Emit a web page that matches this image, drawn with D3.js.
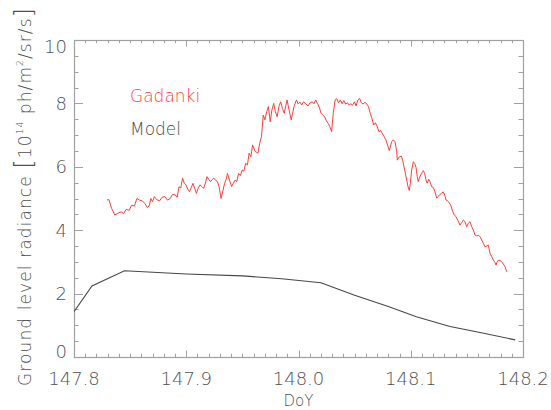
<!DOCTYPE html>
<html>
<head>
<meta charset="utf-8">
<script src="https://cdn.jsdelivr.net/npm/d3@7"></script>
<style>
  html, body { margin: 0; padding: 0; background: #fff; }
  svg { display: block; }
  text { font-family: "DejaVu Sans", "Liberation Sans", sans-serif; font-weight: 200; fill: #505050; }
</style>
</head>
<body>
<svg id="chart" width="551" height="410"></svg>
<script>
// Observed ground level radiance at Gadanki (DoY, value in 1e14 ph/m²/sr/s)
const gadankiDoy = [
  147.8294,147.8310,147.8335,147.8363,147.8388,147.8420,147.8441,147.8466,147.8491,147.8513,
  147.8538,147.8560,147.8585,147.8607,147.8629,147.8654,147.8669,147.8685,147.8700,147.8716,
  147.8738,147.8763,147.8785,147.8810,147.8832,147.8857,147.8878,147.8903,147.8919,147.8935,
  147.8951,147.8967,147.8982,147.8998,147.9013,147.9029,147.9044,147.9060,147.9075,147.9091,
  147.9107,147.9122,147.9138,147.9154,147.9170,147.9185,147.9201,147.9216,147.9232,147.9247,
  147.9263,147.9278,147.9294,147.9310,147.9326,147.9342,147.9357,147.9367,147.9385,147.9404,
  147.9419,147.9435,147.9450,147.9466,147.9482,147.9498,147.9513,147.9529,147.9545,147.9560,
  147.9576,147.9591,147.9613,147.9638,147.9654,147.9670,147.9686,147.9701,147.9717,147.9732,
  147.9748,147.9763,147.9779,147.9794,147.9810,147.9825,147.9841,147.9857,147.9873,147.9898,
  147.9916,147.9935,147.9960,147.9982,147.9997,148.0013,148.0029,148.0045,148.0067,148.0085,
  148.0104,148.0123,148.0138,148.0154,148.0170,148.0185,148.0201,148.0217,148.0233,148.0248,
  148.0264,148.0279,148.0295,148.0310,148.0326,148.0341,148.0357,148.0373,148.0388,148.0404,
  148.0420,148.0436,148.0451,148.0467,148.0482,148.0498,148.0513,148.0529,148.0544,148.0560,
  148.0576,148.0592,148.0608,148.0623,148.0639,148.0654,148.0670,148.0685,148.0701,148.0716,
  148.0732,148.0755,148.0779,148.0809,148.0830,148.0845,148.0860,148.0875,148.0880,148.0893,
  148.0904,148.0916,148.0928,148.0940,148.0949,148.0964,148.0976,148.0987,148.0996,148.1008,
  148.1023,148.1035,148.1047,148.1058,148.1067,148.1076,148.1089,148.1100,148.1112,148.1124,
  148.1136,148.1147,148.1160,148.1171,148.1187,148.1201,148.1216,148.1231,148.1243,148.1255,
  148.1273,148.1290,148.1303,148.1314,148.1326,148.1338,148.1356,148.1374,148.1388,148.1403,
  148.1421,148.1439,148.1454,148.1468,148.1483,148.1498,148.1513,148.1528,148.1543,148.1557,
  148.1572,148.1587,148.1602,148.1617,148.1632,148.1646,148.1661,148.1677,148.1691,148.1706,
  148.1721,148.1735,148.1751,148.1759,148.1771,148.1784,148.1795,148.1810,148.1825,148.1840,
  148.1855
];
const gadankiVal = [
  4.95,4.97,4.69,4.48,4.53,4.58,4.52,4.66,4.62,4.79,
  4.76,5.00,4.95,4.93,4.85,4.72,4.76,5.00,4.90,5.06,
  4.96,4.93,5.04,5.06,4.95,5.00,5.13,5.11,5.04,5.37,
  5.33,5.64,5.48,5.43,5.29,5.22,5.34,5.48,5.32,5.16,
  5.34,5.43,5.38,5.32,5.48,5.69,5.60,5.53,5.60,5.64,
  5.57,5.53,5.34,5.00,5.24,5.48,5.62,5.79,5.58,5.38,
  5.48,5.58,5.53,5.79,5.72,5.90,5.86,6.11,6.06,6.43,
  6.32,6.69,6.49,6.43,6.74,6.95,7.63,7.48,7.74,7.90,
  7.42,7.79,8.00,7.74,7.58,7.90,8.05,7.84,7.69,8.11,
  7.79,7.48,7.90,8.11,7.98,8.04,7.95,8.05,7.98,7.92,
  8.02,8.05,7.99,8.11,7.99,7.88,7.69,7.63,7.58,7.45,
  7.37,7.27,7.11,7.69,8.11,8.15,8.02,8.11,7.99,8.09,
  7.98,8.02,7.95,7.99,7.94,8.05,7.92,8.11,8.16,8.02,
  7.98,8.04,7.98,7.90,7.69,7.53,7.32,7.39,7.27,7.11,
  7.14,7.00,6.85,6.51,6.79,6.85,6.79,6.48,6.21,6.30,
  6.32,6.34,6.21,6.00,5.85,5.58,5.37,5.25,5.48,5.90,
  6.16,6.11,5.98,5.69,5.53,5.64,5.74,5.81,5.88,5.79,
  5.58,5.48,5.61,5.53,5.37,5.35,5.21,5.01,5.06,5.11,
  5.16,5.21,5.11,4.95,4.93,4.89,4.79,4.58,4.48,4.43,
  4.30,4.16,4.24,4.32,4.27,4.11,4.22,4.27,4.11,4.01,
  3.85,3.82,3.84,3.80,3.69,3.59,3.48,3.50,3.53,3.27,
  3.17,3.06,2.98,2.90,3.01,3.06,3.04,3.01,2.93,2.85,
  2.69
];

// Model ground level radiance
const modelDoy = [147.800, 147.816, 147.845, 147.900, 147.950, 147.985, 148.020, 148.050, 148.080, 148.105, 148.135, 148.165, 148.193];
const modelVal = [1.43, 2.24, 2.72, 2.62, 2.56, 2.47, 2.34, 1.95, 1.59, 1.27, 0.96, 0.75, 0.54];

// Axis ranges and tick labels
const xDomain = [147.8, 148.2];
const yDomain = [0, 10];
const xTickValues = [147.8, 147.9, 148.0, 148.1, 148.2];
const xTickLabels = ["147.8", "147.9", "148.0", "148.1", "148.2"];
const yTickValues = [0, 2, 4, 6, 8, 10];
const yTickLabels = ["0", "2", "4", "6", "8", "10"];

const legendNames = ["Gadanki", "Model"];
const seriesColors = ["#ff3c3c", "#474747"];

const svg = d3.select("#chart");
const plot = { left: 74, right: 523, top: 40, bottom: 357 };

const x = d3.scaleLinear().domain(xDomain).range([plot.left, plot.right]);
const y = d3.scaleLinear().domain(yDomain).range([plot.bottom, plot.top]);

const axisColor = "#a0a0a0";
const xMinor = d3.range(0, 41).map(i => xDomain[0] + i * 0.01);
const yMinor = d3.range(0, 21).map(i => i * 0.5);

function isMajor(v, step) { return Math.abs(v / step - Math.round(v / step)) < 1e-6; }

const g = svg.append("g");

// Ticks pointing inward on all four sides
function drawTicks() {
  const tg = g.append("g").attr("stroke", axisColor).attr("stroke-width", 1);
  xMinor.forEach(v => {
    const len = isMajor(v - xDomain[0], 0.1) ? 6.5 : 3.2;
    const px = Math.round(x(v)) + 0.5;
    tg.append("line").attr("x1", px).attr("x2", px).attr("y1", plot.bottom).attr("y2", plot.bottom - len);
    tg.append("line").attr("x1", px).attr("x2", px).attr("y1", plot.top).attr("y2", plot.top + len);
  });
  yMinor.forEach(v => {
    const len = isMajor(v, 2) ? 9 : 4.5;
    const py = Math.round(y(v)) + 0.5;
    tg.append("line").attr("x1", plot.left).attr("x2", plot.left + len).attr("y1", py).attr("y2", py);
    tg.append("line").attr("x1", plot.right).attr("x2", plot.right - len).attr("y1", py).attr("y2", py);
  });
}
drawTicks();

// Frame
g.append("rect")
  .attr("x", plot.left + 0.5).attr("y", plot.top + 0.5)
  .attr("width", plot.right - plot.left).attr("height", plot.bottom - plot.top)
  .attr("fill", "none").attr("stroke", axisColor).attr("stroke-width", 1.2);

// Tick labels
g.selectAll(".xlab").data(xTickValues).join("text")
  .attr("class", "xlab")
  .attr("x", d => x(d)).attr("y", plot.bottom + 28)
  .attr("text-anchor", "middle").attr("font-size", 18)
  .text((d, i) => xTickLabels[i]);

g.selectAll(".ylab").data(yTickValues).join("text")
  .attr("class", "ylab")
  .attr("x", plot.left - 7)
  .attr("y", d => y(d) + 6.5 + (d === yDomain[1] ? 6 : 0) - (d === yDomain[0] ? 6 : 0))
  .attr("text-anchor", "end").attr("font-size", 18)
  .text((d, i) => yTickLabels[i]);

// Axis titles
g.append("text")
  .attr("x", (plot.left + plot.right) / 2).attr("y", 406)
  .attr("text-anchor", "middle").attr("font-size", 15)
  .text("DoY");

const yt = g.append("text")
  .attr("transform", "translate(31,197) rotate(-90)")
  .attr("text-anchor", "middle").attr("font-size", 17)
  .attr("textLength", 378).attr("lengthAdjust", "spacing");
yt.append("tspan").text("Ground  level  radiance  ");
yt.append("tspan").attr("font-size", 24).attr("dy", 1).text("[");
yt.append("tspan").attr("dy", -1).text("10");
yt.append("tspan").attr("font-size", 9).attr("dy", -8).text("14");
yt.append("tspan").attr("dy", 8).text("  ph/m");
yt.append("tspan").attr("font-size", 9).attr("dy", -8).text("2");
yt.append("tspan").attr("dy", 8).text("/sr/s");
yt.append("tspan").attr("font-size", 24).attr("dy", 1).text("]");

// Data lines
svg.append("clipPath").attr("id", "plotclip")
  .append("rect").attr("x", plot.left).attr("y", plot.top)
  .attr("width", plot.right - plot.left).attr("height", plot.bottom - plot.top);

const line = d3.line().x(d => x(d[0])).y(d => y(d[1]));

svg.append("path")
  .datum(gadankiDoy.map((d, i) => [d, gadankiVal[i]]))
  .attr("d", line)
  .attr("fill", "none").attr("stroke", seriesColors[0]).attr("stroke-width", 1)
  .attr("stroke-linejoin", "round");

svg.append("path")
  .datum(modelDoy.map((d, i) => [d, modelVal[i]]))
  .attr("d", line)
  .attr("clip-path", "url(#plotclip)")
  .attr("fill", "none").attr("stroke", seriesColors[1]).attr("stroke-width", 1.1);

// Legend
svg.selectAll(".legend").data(legendNames).join("text")
  .attr("class", "legend")
  .attr("x", 130).attr("y", (d, i) => 102 + i * 33)
  .attr("font-size", 17)
  .style("fill", (d, i) => seriesColors[i])
  .text(d => d);
</script>
</body>
</html>
